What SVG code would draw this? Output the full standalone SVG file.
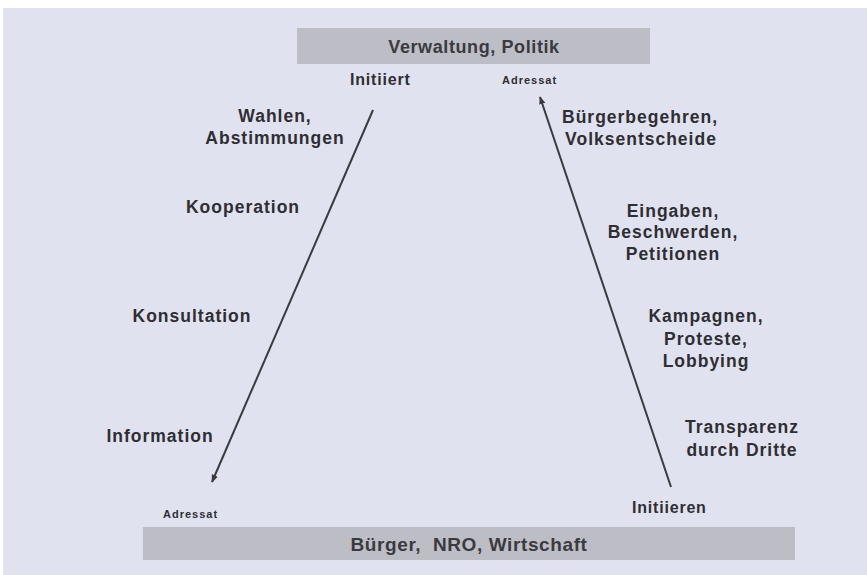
<svg xmlns="http://www.w3.org/2000/svg" width="867" height="575" viewBox="0 0 867 575">
<defs>
<style>
text{font-family:"Liberation Sans",Arial,sans-serif;font-weight:bold;fill:#2e2e33;}
.lbl{font-size:17.5px;letter-spacing:1px;text-anchor:middle;}
.sm{font-size:16px;letter-spacing:0.8px;}
.xs{font-size:11px;letter-spacing:1px;}
.bar{fill:#bdbdc5;}
.bartxt{font-size:18px;letter-spacing:0.6px;text-anchor:middle;fill:#3a3a40;}
.conn{stroke:#3a3a40;stroke-width:2;fill:none;}
</style>
<marker id="ah" viewBox="0 0 10 10" refX="9" refY="5" markerWidth="4" markerHeight="4" orient="auto" markerUnits="strokeWidth">
<path d="M0,1 L10,5 L0,9 z" fill="#3a3a40"/>
</marker>
</defs>
<rect x="0" y="0" width="867" height="575" fill="#ffffff"/>
<rect x="3" y="8" width="864" height="567" fill="#e1e2ef"/>

<g id="top">
<rect class="bar" x="297" y="28" width="353" height="36"/>
<text class="bartxt" x="474" y="53">Verwaltung, Politik</text>
</g>
<g id="bottom">
<rect class="bar" x="143" y="527" width="652" height="33"/>
<text class="bartxt" x="469" y="551" style="font-size:19px;white-space:pre" xml:space="preserve">Bürger,  NRO, Wirtschaft</text>
</g>

<g id="connectors">
<line class="conn" x1="373" y1="110" x2="212" y2="482" marker-end="url(#ah)"/>
<line class="conn" x1="671" y1="487" x2="540" y2="97" marker-end="url(#ah)"/>
</g>

<g id="end-labels">
<text class="sm" x="350" y="85">Initiiert</text>
<text class="xs" x="502" y="84">Adressat</text>
<text class="xs" x="163" y="518">Adressat</text>
<text class="sm" x="632" y="513">Initiieren</text>
</g>

<g id="left-labels">
<text class="lbl" x="275" y="122">Wahlen,</text>
<text class="lbl" x="275" y="144">Abstimmungen</text>
<text class="lbl" x="243" y="213">Kooperation</text>
<text class="lbl" x="192" y="322">Konsultation</text>
<text class="lbl" x="160" y="442">Information</text>
</g>

<g id="right-labels">
<text class="lbl" x="640" y="123">Bürgerbegehren,</text>
<text class="lbl" x="641" y="145">Volksentscheide</text>
<text class="lbl" x="673" y="217">Eingaben,</text>
<text class="lbl" x="673" y="238">Beschwerden,</text>
<text class="lbl" x="673" y="260">Petitionen</text>
<text class="lbl" x="706" y="322">Kampagnen,</text>
<text class="lbl" x="706" y="345">Proteste,</text>
<text class="lbl" x="706" y="367">Lobbying</text>
<text class="lbl" x="742" y="433">Transparenz</text>
<text class="lbl" x="742" y="456">durch Dritte</text>
</g>
</svg>
